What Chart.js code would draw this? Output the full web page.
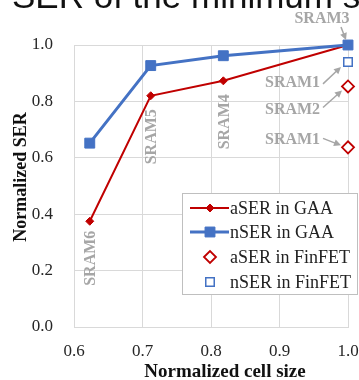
<!DOCTYPE html>
<html>
<head>
<meta charset="utf-8">
<script src="https://cdn.jsdelivr.net/npm/chart.js@4.4.1/dist/chart.umd.min.js"></script>
<style>
  html, body { margin: 0; padding: 0; background: #fff; }
  #wrap { position: relative; width: 359px; height: 380px; }
</style>
</head>
<body>
<div id="wrap"><canvas id="myChart"></canvas></div>
<script>
// data
const cellSizeGAA = [0.623, 0.712, 0.818, 1.0];
const aserGAA = [0.375, 0.82, 0.873, 1.0];
const nserGAA = [0.652, 0.927, 0.962, 1.0];
const gaaLabels = ['SRAM6', 'SRAM5', 'SRAM4', 'SRAM3'];

const cellSizeFinA = [1.0, 1.0];
const aserFinFET = [0.853, 0.637];
const cellSizeFinN = [1.0];
const nserFinFET = [0.94];
const finLabels = ['SRAM2', 'SRAM1'];
const finNLabels = ['SRAM1'];

const seriesNames = ['aSER in GAA', 'nSER in GAA', 'aSER in FinFET', 'nSER in FinFET'];
const xTicks = [0.6, 0.7, 0.8, 0.9, 1.0];
const yTicks = [0.0, 0.2, 0.4, 0.6, 0.8, 1.0];
const xTitle = 'Normalized cell size';
const yTitle = 'Normalized SER';

const RED = '#C00000';
const BLUE = '#4472C4';
const GRAY = '#A6A6A6';
const SERIF = "'Liberation Serif', 'Times New Roman', serif";

function pts(xs, ys) {
    return xs.map((x, i) => ({ x: x, y: ys[i] }));
}

// gray SRAM labels + arrows
const notesPlugin = {
    id: 'notes',
    afterDatasetsDraw(chart) {
        const ctx = chart.ctx;
        const xs = chart.scales.x, ys = chart.scales.y;
        ctx.save();
        ctx.fillStyle = GRAY;
        ctx.strokeStyle = GRAY;
        ctx.font = 'bold 16px ' + SERIF;

        // vertical labels under GAA points
        const vOff = [[1, 37], [1, 41], [2, 41]];
        for (let i = 0; i < 3; i++) {
            const px = xs.getPixelForValue(cellSizeGAA[i]) + vOff[i][0];
            const py = ys.getPixelForValue(aserGAA[i]) + vOff[i][1];
            ctx.save();
            ctx.translate(px, py);
            ctx.rotate(-Math.PI / 2);
            ctx.textAlign = 'center';
            ctx.textBaseline = 'middle';
            ctx.fillText(gaaLabels[i], 0, 0);
            ctx.restore();
        }

        function arrow(x1, y1, x2, y2) {
            const a = Math.atan2(y2 - y1, x2 - x1);
            const h = 7;
            ctx.lineWidth = 1.5;
            ctx.beginPath();
            ctx.moveTo(x1, y1);
            ctx.lineTo(x2 - Math.cos(a) * h * 0.7, y2 - Math.sin(a) * h * 0.7);
            ctx.stroke();
            ctx.beginPath();
            ctx.moveTo(x2, y2);
            ctx.lineTo(x2 - h * Math.cos(a) + 3.5 * Math.sin(a), y2 - h * Math.sin(a) - 3.5 * Math.cos(a));
            ctx.lineTo(x2 - h * Math.cos(a) - 3.5 * Math.sin(a), y2 - h * Math.sin(a) + 3.5 * Math.cos(a));
            ctx.closePath();
            ctx.fill();
        }

        // SRAM3 at the top
        let tx = xs.getPixelForValue(cellSizeGAA[3]);
        let ty = ys.getPixelForValue(aserGAA[3]);
        ctx.textAlign = 'center';
        ctx.textBaseline = 'middle';
        ctx.fillText(gaaLabels[3], tx - 26, ty - 26);
        arrow(tx - 7, ty - 18, tx - 2, ty - 5);

        // FinFET labels on the left of the points
        ctx.textAlign = 'left';
        tx = xs.getPixelForValue(cellSizeFinN[0]);
        ty = ys.getPixelForValue(nserFinFET[0]);
        ctx.fillText(finNLabels[0], tx - 83, ty + 21);
        arrow(tx - 25, ty + 22, tx - 7, ty + 5);

        tx = xs.getPixelForValue(cellSizeFinA[0]);
        ty = ys.getPixelForValue(aserFinFET[0]);
        ctx.fillText(finLabels[0], tx - 83, ty + 23);
        arrow(tx - 25, ty + 21, tx - 6, ty + 4);

        ty = ys.getPixelForValue(aserFinFET[1]);
        ctx.fillText(finLabels[1], tx - 83, ty - 8);
        arrow(tx - 25, ty - 9, tx - 7, ty - 2);
        ctx.restore();
    }
};

// legend box inside the plot, axis titles, cropped caption at the top
const legendPlugin = {
    id: 'boxLegend',
    afterDraw(chart) {
        const ctx = chart.ctx;
        ctx.save();
        ctx.font = "35px 'Liberation Sans', Arial, sans-serif";
        ctx.fillStyle = '#111';
        ctx.textBaseline = 'alphabetic';
        ctx.fillText('SER of the minimum size', 12, 8);

        // axis titles
        ctx.textAlign = 'center';
        ctx.textBaseline = 'middle';
        ctx.font = 'bold 19px ' + SERIF;
        ctx.fillText(xTitle, 225, 372);
        ctx.save();
        ctx.translate(21, 177);
        ctx.rotate(-Math.PI / 2);
        ctx.font = 'bold 18px ' + SERIF;
        ctx.fillText(yTitle, 0, 0);
        ctx.restore();

        const bx = 182, by = 193, bw = 175, bh = 101;
        ctx.fillStyle = '#fff';
        ctx.fillRect(bx, by, bw, bh);
        ctx.strokeStyle = '#BFBFBF';
        ctx.lineWidth = 1;
        ctx.strokeRect(bx + 0.5, by + 0.5, bw, bh);

        const rowY = [208, 232, 257, 282];
        ctx.font = '18px ' + SERIF;
        ctx.textBaseline = 'middle';
        ctx.textAlign = 'left';
        chart.data.datasets.forEach((ds, i) => {
            const y = rowY[i];
            if (ds.showLine) {
                ctx.strokeStyle = ds.borderColor;
                ctx.lineWidth = ds.borderWidth;
                ctx.beginPath();
                ctx.moveTo(190, y);
                ctx.lineTo(229, y);
                ctx.stroke();
            }
            ctx.fillStyle = ds.pointBackgroundColor;
            ctx.strokeStyle = ds.pointBorderColor;
            ctx.lineWidth = ds.pointBorderWidth;
            Chart.helpers.drawPoint(ctx, {
                pointStyle: ds.pointStyle,
                radius: ds.pointRadius,
                borderWidth: ds.pointBorderWidth,
                rotation: 0
            }, 210, y);
            ctx.fillStyle = '#222';
            ctx.fillText(ds.label, 230, y + 1);
        });
        ctx.restore();
    }
};

const ctx = document.getElementById('myChart');

new Chart(ctx, {
    type: 'scatter',
    data: {
        datasets: [{
            label: seriesNames[0],
            data: pts(cellSizeGAA, aserGAA),
            showLine: true,
            clip: false,
            borderColor: RED,
            borderWidth: 2,
            pointStyle: 'rectRot',
            pointRadius: 4,
            pointBackgroundColor: RED,
            pointBorderColor: RED,
            pointBorderWidth: 1,
            order: 1
        }, {
            label: seriesNames[1],
            data: pts(cellSizeGAA, nserGAA),
            showLine: true,
            clip: false,
            borderColor: BLUE,
            borderWidth: 3,
            pointStyle: 'rect',
            pointRadius: 7,
            pointBackgroundColor: BLUE,
            pointBorderColor: BLUE,
            pointBorderWidth: 1,
            order: 0
        }, {
            label: seriesNames[2],
            data: pts(cellSizeFinA, aserFinFET),
            showLine: false,
            clip: false,
            pointStyle: 'rectRot',
            pointRadius: 6,
            pointBackgroundColor: '#fff',
            pointBorderColor: RED,
            pointBorderWidth: 1.8
        }, {
            label: seriesNames[3],
            data: pts(cellSizeFinN, nserFinFET),
            showLine: false,
            clip: false,
            pointStyle: 'rect',
            pointRadius: 6,
            pointBackgroundColor: '#fff',
            pointBorderColor: BLUE,
            pointBorderWidth: 1.5
        }]
    },
    options: {
        responsive: true,
        maintainAspectRatio: false,
        animation: false,
        layout: { padding: { top: 45, right: 0, left: 0, bottom: 0 } },
        plugins: {
            legend: { display: false },
            tooltip: { enabled: false }
        },
        scales: {
            x: {
                type: 'linear',
                min: 0.6,
                max: 1.0,
                afterBuildTicks: (s) => { s.ticks = xTicks.map(v => ({ value: v })); },
                afterFit: (s) => { s.height = 53; s.paddingRight = 11; s.paddingLeft = 0; },
                grid: { color: '#D9D9D9', drawTicks: false },
                border: { color: '#D9D9D9' },
                ticks: {
                    padding: 14,
                    color: '#262626',
                    font: { family: SERIF, size: 17 },
                    callback: (v) => v.toFixed(1)
                }
            },
            y: {
                min: 0,
                max: 1.0,
                afterBuildTicks: (s) => { s.ticks = yTicks.map(v => ({ value: v })); },
                afterFit: (s) => { s.width = 74; },
                grid: { color: '#D9D9D9', drawTicks: false },
                border: { color: '#D9D9D9' },
                ticks: {
                    padding: 21,
                    color: '#262626',
                    font: { family: SERIF, size: 17 },
                    callback: (v) => v.toFixed(1)
                }
            }
        }
    },
    plugins: [notesPlugin, legendPlugin]
});
</script>
</body>
</html>
